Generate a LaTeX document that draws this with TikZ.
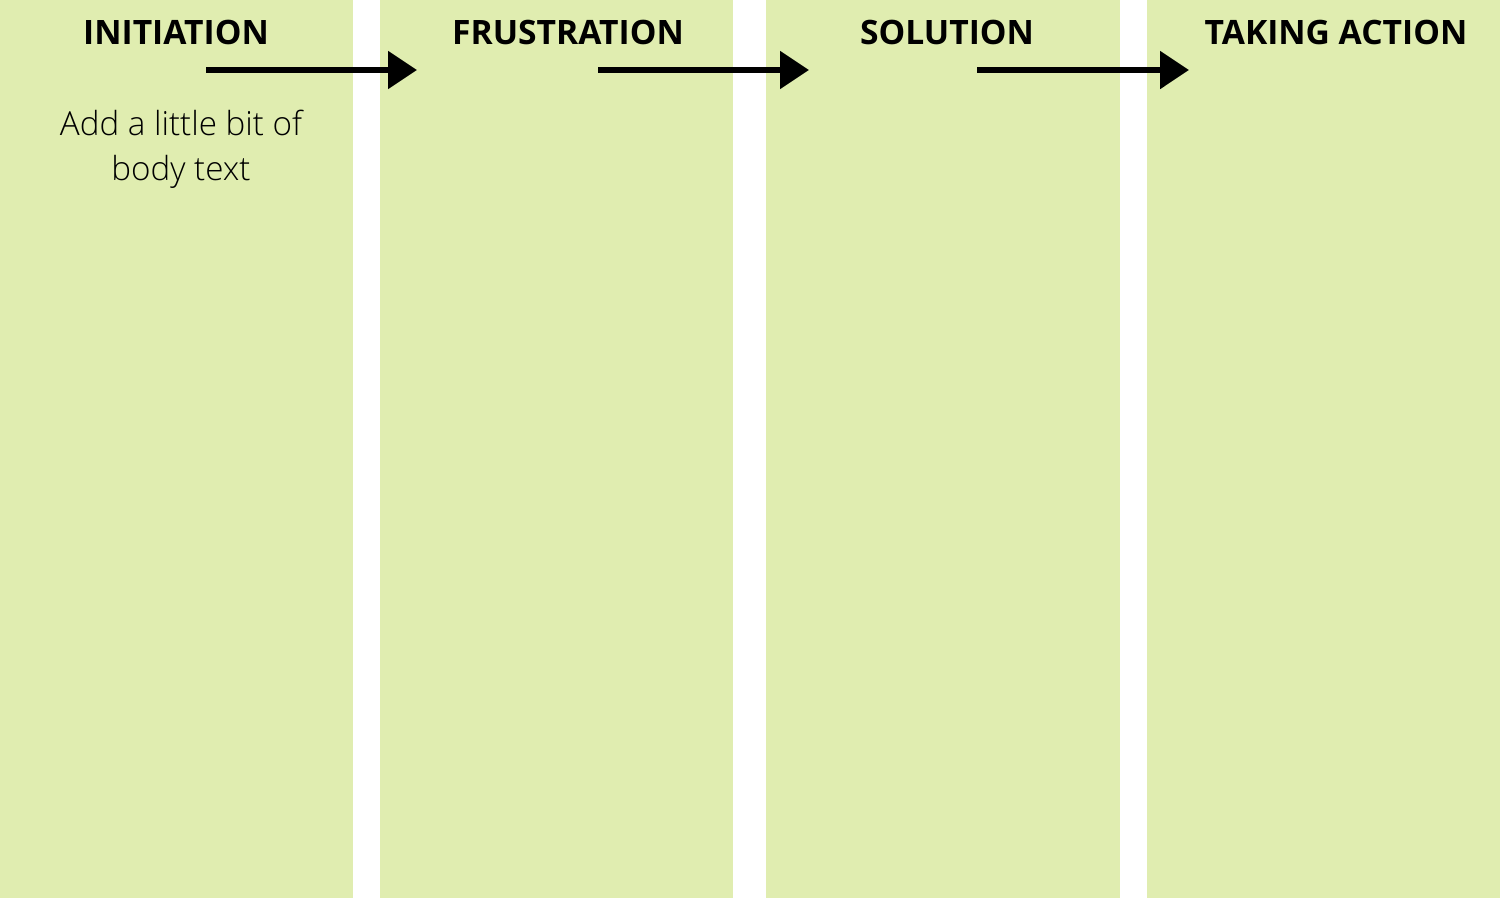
\documentclass[tikz,border=0pt]{standalone}
\usepackage{fontspec}
\setmainfont{Open Sans}
\newfontfamily\lightfont{Open Sans Light}
\usetikzlibrary{arrows.meta}
\definecolor{colfill}{RGB}{224,237,176}
\tikzset{
  col/.style={fill=colfill,draw=none},
  head/.style={font=\fontsize{33.6}{40}\selectfont\bfseries,anchor=base,inner sep=0pt},
  body/.style={font=\lightfont\fontsize{33.2}{45}\selectfont,align=center,anchor=base,inner sep=0pt},
  flow/.style={line width=5.5pt,-{Triangle[length=29pt,width=37pt]}}
}
\begin{document}
\begin{tikzpicture}[x=1pt,y=-1pt]
\useasboundingbox (0,0) rectangle (1500,900);
\fill[white] (0,0) rectangle (1500,900);
\path[col] (0,0) rectangle (353,898);
\path[col] (380,0) rectangle (733,898);
\path[col] (766,0) rectangle (1120,898);
\path[col] (1147,0) rectangle (1500,898);
\node[head] (h1) at (176,44) {INITIATION};
\node[head] (h2) at (568,44) {FRUSTRATION};
\node[head] (h3) at (947,44) {SOLUTION};
\node[head] (h4) at (1336,44) {TAKING ACTION};
\node[body] (b1) at (181,135) {Add a little bit of};
\node[body] (b2) at (181,180) {body text};
\coordinate (a1s) at (206,70);
\coordinate (a1e) at (417,70);
\coordinate (a2s) at (598,70);
\coordinate (a2e) at (809,70);
\coordinate (a3s) at (977,70);
\coordinate (a3e) at (1189,70);
\draw[flow] (a1s) -- (a1e);
\draw[flow] (a2s) -- (a2e);
\draw[flow] (a3s) -- (a3e);
\end{tikzpicture}
\end{document}
